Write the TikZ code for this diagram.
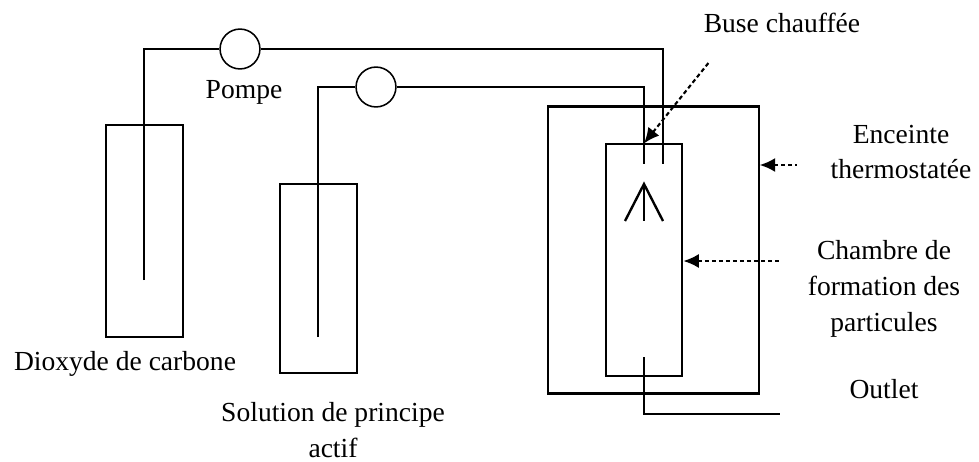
\documentclass[tikz,border=0pt]{standalone}
\usepackage{fontspec}
\setmainfont{Liberation Serif}
\usepackage{tikz}
\usetikzlibrary{positioning, calc, arrows.meta}

\tikzset{
    vessel/.style={draw, line width=1.4pt, minimum width=77*0.7087pt, inner sep=0pt},
    pump/.style={draw, circle, line width=1.1pt, minimum size=40*0.7087pt, inner sep=0pt},
    tube/.style={line width=1.7pt},
    pointer/.style={<-, >={Latex[length=11pt,width=10pt]}, line width=1.5pt, dash pattern=on 3pt off 2pt},
    caption/.style={align=center, font=\fontsize{19.6}{25.5}\selectfont, inner sep=0pt}
}

\begin{document}
\begin{tikzpicture}[x=0.025cm, y=-0.025cm]
        \useasboundingbox (0, 0) rectangle (979, 461);
        \path (144.5, 231) node[vessel, minimum height=212*0.7087pt](Co2Tank){};
        \path (318.5, 278.5) node[vessel, minimum height=189*0.7087pt](DrugTank){};
        \path (653.5, 250) node[draw, line width=1.5pt, minimum width=211*0.7087pt, minimum height=288*0.7087pt, inner sep=0pt](Oven){};
        \path (644, 260) node[vessel, minimum height=232*0.7087pt](Chamber){};
        \path (240, 49) node[pump](PumpA){};
        \path (376, 87) node[pump](PumpB){};
        % tube ends
        \coordinate (Co2End) at (144, 280);
        \coordinate (DrugEnd) at (318, 337);
        \coordinate (NozzleA) at (663, 164);
        \coordinate (NozzleB) at (644, 164);
        \coordinate (OutletIn) at (644, 357);
        \coordinate (OutletEnd) at (780, 414);
        \draw[tube] (Co2End) |- (PumpA.west);
        \draw[tube] (PumpA.east) -| (NozzleA);
        \draw[tube] (DrugEnd) |- (PumpB.west);
        \draw[tube] (PumpB.east) -| (NozzleB);
        \draw[tube] (OutletIn) |- (OutletEnd);
        % spray
        \coordinate (SprayTop) at (644, 184);
        \coordinate (SprayLeft) at (625, 221);
        \coordinate (SprayMid) at (644, 221);
        \coordinate (SprayRight) at (663, 221);
        \draw[tube] (SprayLeft) -- (SprayTop) -- (SprayRight);
        \draw[line width=1.3pt] (SprayTop) -- (SprayMid);
        % labels
        \path (782, 23) node[caption](BuseLabel){Buse chauffée};
        \path (244, 92) node[caption](PompeLabel){Pompe};
        \path (901, 152) node[caption](OvenLabel){Enceinte \\ thermostatée};
        \path (884, 289) node[caption](ChamberLabel){Chambre de \\ formation des \\ particules};
        \path (884, 389) node[caption](OutletLabel){Outlet};
        \path (125, 364) node[caption](Co2Label){Dioxyde de carbone};
        \path (333, 430) node[caption](DrugLabel){Solution de principe \\ actif};
        % pointers
        \coordinate (BuseTail) at (710, 61);
        \coordinate (OvenTail) at (797, 165);
        \coordinate (ChamberTail) at (780, 261);
        \draw[pointer] (NozzleB |- Chamber.north) -- (BuseTail);
        \draw[pointer] (Oven.east |- OvenTail) -- (OvenTail);
        \draw[pointer] (Chamber.east |- ChamberTail) -- (ChamberTail);
    \end{tikzpicture}
\end{document}
